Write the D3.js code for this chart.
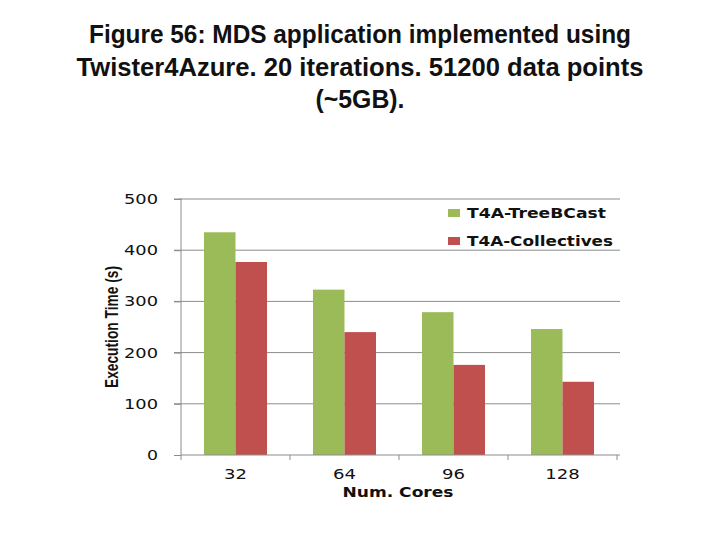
<!DOCTYPE html>
<html>
<head>
<meta charset="utf-8">
<script src="https://cdn.jsdelivr.net/npm/d3@7"></script>
<style>
  body { margin: 0; background: #fff; }
  svg { display: block; }
</style>
</head>
<body>
<svg id="chart" width="720" height="540"></svg>
<script>
// data
const cores = ["32", "64", "96", "128"];
const treeBCast = [435, 323, 279, 246];
const collectives = [377, 240, 176, 143];
const seriesNames = ["T4A-TreeBCast", "T4A-Collectives"];
const seriesColors = ["#9bbb59", "#c0504d"];
const yTicks = [0, 100, 200, 300, 400, 500];
const titleLines = [
  "Figure 56: MDS application implemented using",
  "Twister4Azure. 20 iterations. 51200 data points",
  "(~5GB)."
];

const svg = d3.select("#chart");

// title
const titleWidths = [542, 567, 89];
svg.selectAll(".title")
  .data(titleLines)
  .enter()
  .append("text")
  .attr("class", "title")
  .attr("x", 360)
  .attr("y", (d, i) => 43 + i * 32.5)
  .attr("text-anchor", "middle")
  .attr("font-family", "Liberation Sans, Arial, sans-serif")
  .attr("font-weight", "bold")
  .attr("font-size", 25)
  .attr("textLength", (d, i) => titleWidths[i])
  .attr("lengthAdjust", "spacingAndGlyphs")
  .attr("fill", "#111")
  .text(d => d);

// plot area
const pLeft = 181, pRight = 617, pTop = 199, pBottom = 455;

const x = d3.scaleBand().domain(cores).range([pLeft, pRight]).paddingInner(0).paddingOuter(0);
const y = d3.scaleLinear().domain([0, 500]).range([pBottom, pTop]);

const rows = cores.map((c, i) => ({ core: c, values: [treeBCast[i], collectives[i]] }));
const inner = d3.scaleBand().domain([0, 1]).range([0, x.bandwidth()]).paddingOuter(0.73).paddingInner(0);

// gridlines
svg.append("g")
  .selectAll("line")
  .data(yTicks.filter(t => t > 0))
  .enter()
  .append("line")
  .attr("x1", pLeft - 7)
  .attr("x2", pRight + 3)
  .attr("y1", d => y(d))
  .attr("y2", d => y(d))
  .attr("stroke", "#8c8c8c")
  .attr("stroke-width", 1);

// bars
const groups = svg.append("g")
  .selectAll("g")
  .data(rows)
  .enter()
  .append("g")
  .attr("transform", d => "translate(" + x(d.core) + ",0)");

groups.selectAll("rect")
  .data(d => d.values)
  .enter()
  .append("rect")
  .attr("x", (d, i) => inner(i))
  .attr("width", inner.bandwidth())
  .attr("y", d => y(d))
  .attr("height", d => y(0) - y(d))
  .attr("fill", (d, i) => seriesColors[i]);

// y axis
const yAxis = svg.append("g")
  .attr("transform", "translate(" + pLeft + ",0)")
  .call(d3.axisLeft(y).tickValues(yTicks).tickSize(7).tickPadding(16));
yAxis.select(".domain").attr("stroke", "#8c8c8c").attr("d", "M0," + (pTop - 1) + "V" + (pBottom + 5));
yAxis.selectAll(".tick line").attr("stroke", "#8c8c8c");
yAxis.selectAll(".tick text")
  .attr("font-family", "DejaVu Sans, Verdana, sans-serif")
  .attr("font-size", 14)
  .attr("fill", "#111")
  .attr("textLength", 34)
  .attr("lengthAdjust", "spacingAndGlyphs")
  .filter(d => d === 0)
  .attr("textLength", 11);

// x axis
const xAxis = svg.append("g")
  .attr("transform", "translate(0," + pBottom + ")")
  .call(d3.axisBottom(x).tickSize(0).tickPadding(14));
xAxis.select(".domain").attr("stroke", "#8c8c8c").attr("d", "M" + pLeft + ",0H" + (pRight + 3));
xAxis.selectAll(".tick text")
  .attr("font-family", "DejaVu Sans, Verdana, sans-serif")
  .attr("font-size", 14)
  .attr("fill", "#111")
  .attr("textLength", d => d.length * 11.5)
  .attr("lengthAdjust", "spacingAndGlyphs");

// category boundary ticks
xAxis.append("g")
  .selectAll("line")
  .data(cores)
  .enter()
  .append("line")
  .attr("x1", d => x(d) + x.bandwidth())
  .attr("x2", d => x(d) + x.bandwidth())
  .attr("y1", 0)
  .attr("y2", 5)
  .attr("stroke", "#8c8c8c");

// axis titles
svg.append("text")
  .attr("x", 398)
  .attr("y", 497)
  .attr("text-anchor", "middle")
  .attr("font-family", "DejaVu Sans, Verdana, sans-serif")
  .attr("font-weight", "bold")
  .attr("font-size", 14)
  .attr("textLength", 111)
  .attr("lengthAdjust", "spacingAndGlyphs")
  .attr("fill", "#111")
  .text("Num. Cores");

svg.append("text")
  .attr("transform", "translate(118,327) rotate(-90)")
  .attr("text-anchor", "middle")
  .attr("font-family", "Liberation Sans, Arial, sans-serif")
  .attr("font-weight", "bold")
  .attr("font-size", 18)
  .attr("textLength", 122)
  .attr("lengthAdjust", "spacingAndGlyphs")
  .attr("fill", "#111")
  .text("Execution Time (s)");

// legend
const legend = svg.append("g").attr("transform", "translate(448,213)");
const items = legend.selectAll("g")
  .data(seriesNames)
  .enter()
  .append("g")
  .attr("transform", (d, i) => "translate(0," + i * 28 + ")");
items.append("rect")
  .attr("x", 0)
  .attr("y", -4)
  .attr("width", 12)
  .attr("height", 8)
  .attr("fill", (d, i) => seriesColors[i]);
items.append("text")
  .attr("x", 19)
  .attr("y", 5)
  .attr("font-family", "DejaVu Sans, Verdana, sans-serif")
  .attr("font-weight", "bold")
  .attr("font-size", 14)
  .attr("textLength", (d, i) => i === 0 ? 139 : 146)
  .attr("lengthAdjust", "spacingAndGlyphs")
  .attr("fill", "#111")
  .text(d => d);
</script>
</body>
</html>
